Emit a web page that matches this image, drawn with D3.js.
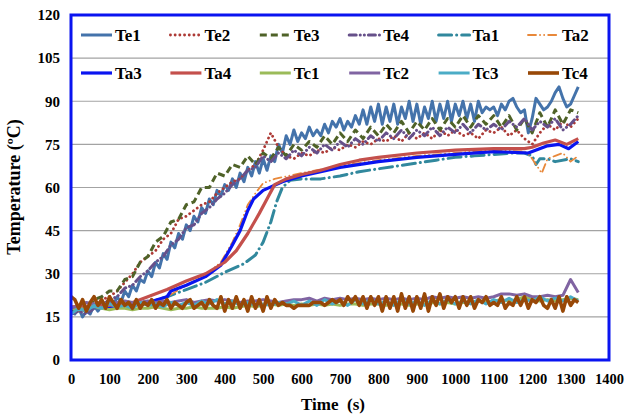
<!DOCTYPE html>
<html lang="en">
<head>
<meta charset="UTF-8">
<script src="https://d3js.org/d3.v7.min.js"></script>
<title>Temperature</title>
<style>
  body { margin: 0; background: #fff; }
  text { font-family: "Liberation Serif", "Times New Roman", serif; font-weight: bold; fill: #000; }
</style>
</head>
<body>
<svg id="chart" width="626" height="417"></svg>
<script>
// sampling grids (s)
const time10 = d3.range(0, 1321, 10);
const time20 = d3.range(0, 1321, 20);

// values (ºC)
const te1 = [17,16,18,15,17,16,19,17,19,18,
  21,19,22,20,24,22,26,24,28,27,
  31,29,34,32,37,35,41,39,44,42,
  47,45,50,48,53,51,56,54,59,57,
  61,59,63,60,65,62,67,64,69,65,
  70,66,71,69,75,72,78,75,80,76,
  79,77,81,78,80,78,82,79,83,81,
  84,80,83,81,85,82,87,82,88,83,
  89,82,88,83,89,82,88,84,90,83,
  89,82,88,84,90,83,89,84,90,83,
  89,85,90,84,89,83,90,86,88,87,
  88,85,89,87,90,91,88,86,87,79,
  84,91,89,87,88,90,93,95,91,88,
  89,92,95];
const te2 = [17,17,18,19,21,22,24,27,30,34,
  36,38,42,44,49,50,52,54,55,58,
  60,62,63,66,68,73,79,74,71,70,
  72,71,73,72,74,73,75,74,76,75,
  77,76,78,76,79,77,79,77,80,78,
  80,78,79,77,80,79,81,78,80,77,
  75,79,82,80,83,81,84];
const te3 = [17,18,17,21,22,24,24,28,29,34,
  36,41,43,48,49,54,55,60,60,65,
  64,68,67,71,68,72,70,74,71,75,
  73,76,74,78,75,79,76,80,77,81,
  78,82,79,83,79,83,80,84,80,84,
  81,85,81,85,82,85,81,85,80,84,
  79,86,81,87,82,87,86];
const te4 = [16,17,16,18,19,21,22,25,26,29,
  31,34,36,40,42,46,47,51,53,56,
  58,61,63,66,67,71,69,72,70,73,
  71,74,72,75,73,76,74,77,75,78,
  76,79,77,80,77,80,78,81,78,81,
  79,82,79,82,80,82,80,83,81,84,
  80,83,81,84,80,82,85];

const ta1Time = [0,50,100,150,200,250,300,350,400,450,480,500,520,535,550,570,600,650,700,750,800,850,900,950,1000,1050,1100,1150,1180,1200,1210,1220,1240,1260,1300,1320];
const ta1 = [18,18,19,19,20,22,24.5,27,30.5,33.5,36.5,41,48,55,60,62.5,63,63,64,65.5,66.5,67.5,68.5,69.5,70.5,71,71.5,72,72,71,68,70,70,69,70,69];
const ta2Time = [0,100,200,250,300,350,390,420,440,460,480,500,530,600,700,800,900,1000,1100,1180,1195,1210,1225,1240,1260,1280,1300,1320];
const ta2 = [18,18.5,20,22,26,29.5,34,41,47,54,58,61.5,63,65,67.5,69.5,71,72,73,72.5,71,68,65,70,71,72,69,71];
const ta3Time = [0,100,150,200,250,260,300,350,390,420,440,460,475,500,550,600,650,700,800,900,1000,1100,1190,1240,1270,1295,1320];
const ta3 = [18,18.5,19,20,22,24,26,29,33,40,45,52,56,59,62,64,65.5,67,69,70.5,71.5,72.5,72,74.5,75,73.5,76];
const ta4Time = [0,100,150,200,250,300,350,400,430,460,490,510,530,560,600,650,700,750,800,900,1000,1100,1180,1200,1230,1260,1290,1320];
const ta4 = [18.5,19,19.5,22,24.5,27.5,30,34,38,44,51,56,61,63,64.5,66,68,69.5,70.5,72,73,73.5,73.5,74,75.5,76.5,75,77];

const tc1 = [18,17.5,18,18.5,18,17.5,18,18,17.5,18,
  18,18.5,18,17.5,18,18,18.5,18,18,18,
  18.5,18,18.5,19,18.5,19,19.5,19,19.5,19,
  19.5,19,19.5,19,19.5,19,19.5,19.5,19,19.5,
  19.5,19,19.5,19.5,19,19.5,19.5,20,19.5,20,
  19.5,20,20,20.5,20,20.5,21,20.5,21,22,
  21,20.5,21,20.5,21,21.5,21];
const tc2 = [18,19,20,19.5,20,19.5,20,20.5,20,20,
  20.5,20,20.5,20,20.5,21,20,20.5,21,20.5,
  21,20.5,20,20.5,20.5,21,20.5,20,20.5,21,
  21,21.5,20.5,21.5,21,21.5,21,21.5,21,21.5,
  21,21.5,21,21.5,21,21.5,21,22,21.5,22,
  21.5,22,21.5,22,21.5,22,23,23,22.5,23,
  22,22,22.5,22,22.5,28,23.5];
const tc3 = [16,18,17,19,18,19.5,18.5,19,18,20,
  19,19.5,18.5,20,19,20,19,20.5,19.5,21,
  19.5,20.5,19,20,19,19.5,19,20,19.5,20.5,
  19,20.5,19,21,19.5,20.5,19,21,19.5,21,
  19.5,20.5,19,21,19.5,20.5,19,21,19.5,21,
  19.5,20.5,19.5,21,19.5,21,20,21.5,20,21,
  20.5,22,20.5,21.5,20.5,22,20.5];
const tc4 = [22,21,18,21,17,20,22,19,21,18,
  22,20,18,21,19,20,18,21,18,20,
  19,21,18,20,19,21,18,20,19,18,
  20,21,18,19,20,18,21,19,18,22,
  17,21,18,22,18,21,17,22,18,21,
  17,22,18,21,19,20,19,19,18,19,
  19,19,19,20,20,20,19,20,21,20,
  21,19,22,20,22,19,22,18,22,19,
  22,17,22,18,22,17,23,18,22,17,
  22,18,23,17,22,19,23,18,22,20,
  22,18,22,19,22,18,21,20,22,19,
  20,19,22,18,20,19,22,19,22,18,
  21,20,22,19,18,21,18,22,17,22,
  19,21,20];

const xTicks = d3.range(0, 1401, 100);
const yTicks = d3.range(0, 121, 15);

// series table: name, times, values, style
const series = [
  {name: "Te1", t: time10, v: te1, color: "#4473ab", w: 3, dash: null},
  {name: "Te2", t: time20, v: te2, color: "#ad3a36", w: 2.8, dash: "0.1 4.6", cap: "round"},
  {name: "Te3", t: time20, v: te3, color: "#4f6228", w: 3, dash: "7 4"},
  {name: "Te4", t: time20, v: te4, color: "#66508a", w: 3, dash: "7 4 0.1 4 0.1 4", cap: "round"},
  {name: "Ta1", t: ta1Time, v: ta1, color: "#31889d", w: 3, dash: "13 5 0.1 5", cap: "round"},
  {name: "Ta2", t: ta2Time, v: ta2, color: "#e8883a", w: 1.8, dash: "8 4 0.1 4 0.1 4", cap: "round"},
  {name: "Ta3", t: ta3Time, v: ta3, color: "#0a14f0", w: 3.2, dash: null},
  {name: "Ta4", t: ta4Time, v: ta4, color: "#c4504c", w: 3.2, dash: null},
  {name: "Tc1", t: time20, v: tc1, color: "#9bbb59", w: 3, dash: null},
  {name: "Tc2", t: time20, v: tc2, color: "#8064a2", w: 3, dash: null},
  {name: "Tc3", t: time20, v: tc3, color: "#4bacc6", w: 3, dash: null},
  {name: "Tc4", t: time10, v: tc4, color: "#984807", w: 3.6, dash: null}
];

const svg = d3.select("svg#chart");
const margin = {top: 15, right: 17, bottom: 57, left: 71};
const width = +svg.attr("width");
const height = +svg.attr("height");
const serif = "'Liberation Serif', 'Times New Roman', serif";

const xScale = d3.scaleLinear().domain([0, 1400]).range([margin.left, width - margin.right]);
const yScale = d3.scaleLinear().domain([0, 120]).range([height - margin.bottom, margin.top]);

svg.append("defs").append("clipPath").attr("id", "plotclip")
  .append("rect")
  .attr("x", margin.left).attr("y", margin.top)
  .attr("width", xScale(1400) - xScale(0))
  .attr("height", yScale(0) - yScale(120));

// gridlines
svg.append("g").selectAll("line")
  .data(yTicks.filter(d => d > 0 && d < 120))
  .join("line")
  .attr("x1", xScale(0)).attr("x2", xScale(1400))
  .attr("y1", d => yScale(d)).attr("y2", d => yScale(d))
  .attr("stroke", "#a3a3a3").attr("stroke-width", 1.2);

// axes (labels only, Excel style)
const yAxis = d3.axisLeft(yScale).tickValues(yTicks).tickSize(0).tickPadding(11);
svg.append("g")
  .attr("transform", `translate(${margin.left},0)`)
  .call(yAxis)
  .attr("font-family", serif)
  .attr("font-size", 15)
  .call(g => g.select(".domain").remove())
  .selectAll("text")
  .style("font-weight", "bold");

const xAxis = d3.axisBottom(xScale).tickValues(xTicks).tickFormat(d3.format("d"))
  .tickSize(0).tickPadding(14);
svg.append("g")
  .attr("transform", `translate(0,${height - margin.bottom})`)
  .call(xAxis)
  .attr("font-family", serif)
  .attr("font-size", 14.5)
  .call(g => g.select(".domain").remove())
  .selectAll("text")
  .style("font-weight", "bold");

// lines
const lineGen = d3.line()
  .x(d => xScale(d[0]))
  .y(d => yScale(d[1]));

const lines = svg.append("g").attr("clip-path", "url(#plotclip)");
series.forEach(s => {
  lines.append("path")
    .datum(s.t.map((t, i) => [t, s.v[i]]))
    .attr("fill", "none")
    .attr("stroke", s.color)
    .attr("stroke-width", s.w)
    .attr("stroke-linejoin", "round")
    .attr("stroke-linecap", s.cap || "butt")
    .attr("stroke-dasharray", s.dash)
    .attr("d", lineGen);
});

// plot border
svg.append("rect")
  .attr("x", xScale(0)).attr("y", yScale(120))
  .attr("width", xScale(1400) - xScale(0))
  .attr("height", yScale(0) - yScale(120))
  .attr("fill", "none")
  .attr("stroke", "#0a14f0")
  .attr("stroke-width", 3);

// legend: 2 rows x 6 columns
const legend = svg.append("g");
series.forEach((s, i) => {
  const col = i % 6, row = Math.floor(i / 6);
  const lx = 81 + col * 89.4;
  const ly = row === 0 ? 35 : 73;
  legend.append("line")
    .attr("x1", lx).attr("x2", lx + 31)
    .attr("y1", ly).attr("y2", ly)
    .attr("stroke", s.color)
    .attr("stroke-width", s.w)
    .attr("stroke-linecap", s.cap || "butt")
    .attr("stroke-dasharray", s.dash);
  legend.append("text")
    .attr("x", lx + 34).attr("y", ly + 6)
    .style("font-size", "17px")
    .text(s.name);
});

// axis titles
svg.append("text")
  .attr("x", 333).attr("y", 410)
  .attr("text-anchor", "middle")
  .style("font-size", "17px")
  .style("white-space", "pre")
  .text("Time  (s)");

svg.append("text")
  .attr("transform", "translate(20,187) rotate(-90)")
  .attr("text-anchor", "middle")
  .style("font-size", "18px")
  .text("Temperature (ºC)");
</script>
</body>
</html>
